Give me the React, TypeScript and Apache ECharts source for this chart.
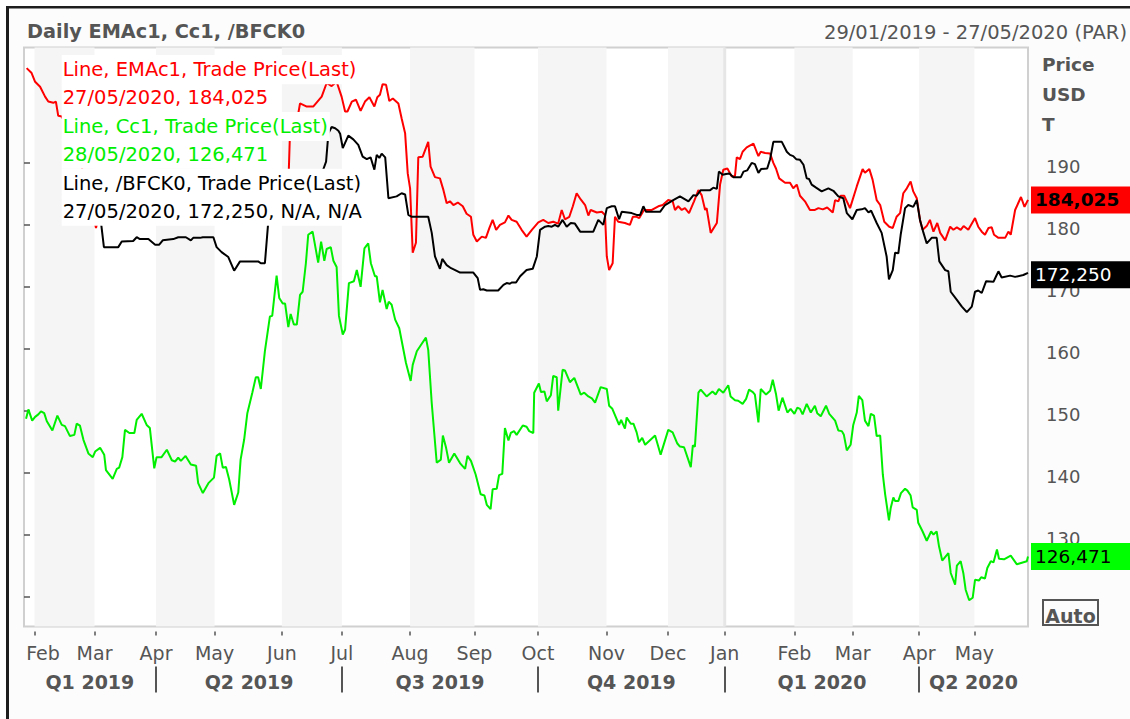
import React, { useEffect, useRef } from 'react';
import * as echarts from 'echarts';

const FONT = "'DejaVu Sans', Verdana, sans-serif";

// x axis unit: trading day index counted from 29/01/2019
const monthStarts = [3.6, 24.1, 45.1, 65.1, 88.1, 108.6, 131.9, 153.9, 175.6, 199.0, 220.0, 239.4, 263.2, 283.1, 305.8, 324.7];
const monthNames = ['Feb', 'Mar', 'Apr', 'May', 'Jun', 'Jul', 'Aug', 'Sep', 'Oct', 'Nov', 'Dec', 'Jan', 'Feb', 'Mar', 'Apr', 'May'];
const quarterBounds = [45.1, 108.6, 175.6, 239.4, 305.8];
const quarterMids = [22.5, 76.9, 142.1, 207.5, 272.6, 324.4];
const quarterNames = ['Q1 2019', 'Q2 2019', 'Q3 2019', 'Q4 2019', 'Q1 2020', 'Q2 2020'];
const shadedMonths: [number, number][] = [[3.6, 24.1], [45.1, 65.1], [88.1, 108.6], [131.9, 153.9], [175.6, 199.0], [220.0, 239.4], [263.2, 283.1], [305.8, 324.7]];
const yearBreak: [number, number] = [238.9, 239.9];
const priceTicks = [120, 130, 140, 150, 160, 170, 180, 190];
const priceLabels = [130, 140, 150, 160, 170, 180, 190];
const xMax = 343;
const yMin = 115.16;
const yMax = 208.63;

const seriesNames = ['EMAc1', 'Cc1', '/BFCK0'];
const seriesColors = ['#ff0000', '#00ee00', '#000000'];
const lastDates = ['27/05/2020', '28/05/2020', '27/05/2020'];
const legendSuffix = ['', '', ', N/A, N/A'];

const emaData: [number, number][] = [
  [0.9, 205.3], [2.6, 204.5], [3.8, 203.1], [5.5, 202.3], [7.2, 200.7], [8.3, 199.9], [10.0, 199.7], [10.9, 199.9], [11.7, 197.6], [12.9, 197.5],
  [15.7, 194.5], [19.1, 190.5], [22.5, 184.0], [24.6, 179.5], [26.0, 182.4], [29.4, 184.8], [36.2, 185.6], [43.0, 184.8], [49.9, 185.6], [56.7, 184.8],
  [63.5, 184.0], [70.4, 183.2], [77.2, 180.5], [80.0, 180.6], [82.3, 183.2], [87.5, 184.0], [90.2, 184.8], [90.9, 195.3], [93.6, 197.7], [94.3, 199.6],
  [96.6, 199.1], [98.8, 199.1], [101.7, 200.7], [103.4, 202.9], [105.1, 202.4], [106.8, 203.1], [108.5, 200.7], [109.7, 198.3], [110.5, 198.3], [112.0, 199.9],
  [113.4, 200.2], [115.0, 198.4], [116.5, 199.9], [118.0, 200.6], [119.7, 199.1], [120.7, 200.6], [121.6, 201.0], [122.5, 202.7], [123.7, 202.6], [124.8, 200.0],
  [126.0, 200.4], [127.9, 199.6], [129.0, 197.2], [130.2, 194.8], [131.1, 188.3], [131.9, 185.9], [132.8, 175.5], [133.9, 177.1], [134.7, 190.9], [136.2, 191.0],
  [138.1, 193.4], [138.9, 189.4], [140.4, 187.7], [142.1, 187.5], [143.3, 185.6], [144.4, 183.5], [145.5, 183.8], [146.7, 183.2], [148.2, 183.6], [149.9, 183.0],
  [151.2, 181.8], [152.7, 181.3], [153.5, 178.4], [154.7, 177.3], [156.4, 178.1], [157.8, 177.9], [159.0, 179.5], [160.1, 180.8], [161.3, 179.2], [162.6, 180.0],
  [164.3, 180.4], [165.5, 181.5], [166.6, 180.8], [168.3, 180.5], [170.0, 179.2], [171.7, 178.1], [173.5, 179.2], [175.7, 180.4], [177.4, 180.8], [179.1, 180.3],
  [180.8, 180.5], [182.5, 180.2], [183.7, 182.4], [184.8, 180.9], [186.3, 181.3], [187.5, 183.0], [188.8, 185.1], [190.2, 184.1], [191.7, 183.2], [192.8, 181.5],
  [193.6, 182.4], [195.7, 182.0], [197.4, 182.1], [198.5, 181.6], [199.1, 174.9], [199.9, 172.7], [201.1, 173.8], [201.9, 181.3], [203.0, 180.5], [205.3, 180.3],
  [207.0, 180.0], [208.0, 181.3], [209.3, 181.3], [210.2, 181.1], [211.8, 182.4], [214.5, 182.4], [216.7, 183.0], [218.2, 183.2], [220.1, 184.0], [221.6, 183.8],
  [222.4, 182.4], [223.5, 183.0], [224.7, 182.4], [225.8, 182.7], [227.2, 181.9], [228.9, 183.8], [230.4, 185.6], [231.5, 184.8], [232.7, 182.4], [233.2, 182.7],
  [234.6, 178.7], [236.7, 180.3], [237.8, 186.5], [238.9, 188.9], [240.3, 189.1], [241.8, 187.8], [242.9, 187.9], [243.5, 190.9], [244.6, 190.6], [245.5, 191.8],
  [246.9, 192.5], [249.2, 193.1], [250.3, 191.8], [250.9, 191.1], [251.7, 191.8], [253.2, 191.6], [254.9, 191.5], [256.0, 190.0], [256.9, 189.1], [258.0, 187.5],
  [260.0, 186.8], [261.7, 186.8], [262.8, 185.9], [264.0, 186.5], [265.1, 184.7], [266.8, 183.8], [268.5, 182.4], [270.2, 182.4], [271.4, 182.7], [272.9, 182.5],
  [274.4, 182.8], [276.3, 182.0], [277.1, 184.0], [278.2, 183.8], [279.0, 184.7], [280.2, 184.7], [282.2, 182.7], [284.5, 186.2], [286.5, 189.0], [287.3, 188.4],
  [288.8, 189.0], [289.9, 187.3], [291.3, 184.0], [292.5, 183.2], [293.9, 180.5], [295.6, 179.7], [296.8, 179.5], [298.1, 181.3], [299.3, 181.9], [300.4, 185.1],
  [301.6, 185.9], [302.9, 187.0], [303.8, 185.4], [305.0, 184.3], [306.1, 180.8], [307.0, 179.2], [308.4, 179.8], [309.5, 180.8], [310.7, 178.9], [312.0, 180.3],
  [313.0, 178.7], [314.7, 177.5], [316.4, 179.7], [317.5, 179.2], [318.7, 179.6], [320.0, 179.2], [321.0, 179.8], [322.6, 179.2], [324.9, 181.1], [326.0, 179.7],
  [327.2, 178.9], [328.3, 178.4], [329.5, 179.5], [330.6, 179.6], [331.4, 178.4], [332.9, 177.9], [335.2, 177.9], [336.3, 178.9], [337.1, 178.4], [338.6, 182.4],
  [340.6, 184.5], [341.8, 182.9], [343.0, 184.025],
];

const ccData: [number, number][] = [
  [0.7, 148.7], [1.5, 150.2], [2.8, 148.4], [3.8, 149.0], [4.9, 149.4], [5.8, 149.9], [6.9, 149.6], [7.8, 148.3], [9.7, 146.8], [11.4, 149.2],
  [12.9, 147.7], [14.0, 147.5], [15.7, 145.9], [17.2, 146.1], [18.0, 147.9], [19.1, 147.6], [20.3, 145.3], [22.0, 143.1], [23.5, 142.5], [24.3, 143.4],
  [26.0, 144.0], [27.4, 142.9], [28.0, 140.4], [30.3, 139.0], [31.7, 140.6], [32.5, 140.8], [33.6, 142.5], [34.5, 146.9], [36.0, 146.4], [37.7, 146.4],
  [38.5, 148.5], [40.2, 149.5], [41.9, 147.7], [43.0, 147.2], [44.5, 140.7], [45.3, 142.5], [47.0, 142.5], [48.8, 143.7], [50.5, 142.0], [51.6, 141.8],
  [52.7, 142.4], [53.6, 141.9], [55.2, 142.7], [57.0, 141.3], [58.8, 141.1], [59.5, 138.3], [61.1, 136.7], [63.0, 138.3], [64.9, 139.2], [65.8, 142.7],
  [67.0, 143.1], [67.9, 140.8], [69.0, 140.9], [70.1, 138.9], [71.8, 134.8], [73.2, 136.8], [74.0, 142.1], [75.2, 145.3], [76.3, 149.6], [78.0, 152.9],
  [79.2, 155.4], [80.0, 155.4], [80.9, 153.5], [82.3, 159.6], [84.0, 165.2], [84.8, 165.3], [86.3, 171.8], [87.2, 168.2], [88.4, 167.3], [89.2, 167.3],
  [90.3, 163.5], [91.1, 165.6], [92.2, 163.9], [93.2, 163.9], [94.3, 168.7], [95.2, 169.2], [96.3, 173.8], [97.1, 178.4], [98.6, 178.9], [100.5, 173.9],
  [101.5, 177.3], [102.6, 174.2], [103.4, 176.1], [104.8, 176.4], [105.7, 174.2], [106.8, 173.2], [107.6, 165.3], [108.9, 162.3], [109.7, 163.1], [111.0, 170.6],
  [112.7, 170.9], [113.7, 172.7], [115.0, 170.0], [116.3, 176.2], [117.6, 177.0], [118.5, 173.8], [119.9, 171.7], [120.5, 171.7], [121.6, 167.5], [122.5, 169.5],
  [123.9, 166.4], [124.6, 167.6], [125.6, 167.1], [126.8, 164.7], [128.2, 163.3], [130.5, 157.7], [132.1, 154.8], [132.8, 157.4], [134.2, 159.6], [135.6, 160.6],
  [137.3, 161.8], [138.1, 159.8], [139.3, 151.2], [141.0, 141.6], [142.4, 142.1], [143.1, 146.0], [144.2, 144.0], [145.2, 141.6], [147.0, 143.1], [149.0, 141.5],
  [150.7, 140.6], [151.5, 142.7], [152.7, 141.9], [154.3, 139.7], [156.0, 136.5], [157.3, 136.3], [158.1, 134.8], [159.4, 134.1], [160.1, 137.3], [161.5, 137.4],
  [162.3, 139.6], [163.4, 139.8], [164.3, 147.2], [165.5, 145.2], [166.3, 146.4], [167.4, 146.7], [168.3, 146.1], [170.4, 147.6], [171.7, 147.4], [172.6, 146.7],
  [174.0, 146.4], [174.3, 152.9], [175.9, 154.4], [176.6, 153.0], [177.8, 153.1], [178.6, 151.5], [180.0, 152.5], [180.8, 155.6], [182.0, 155.4], [182.5, 150.0],
  [184.0, 156.6], [184.8, 156.5], [186.5, 154.6], [188.0, 155.3], [190.2, 152.6], [191.4, 152.9], [192.8, 152.3], [194.0, 152.0], [195.1, 151.3], [197.0, 153.8],
  [199.1, 153.5], [199.9, 150.8], [201.0, 150.3], [203.3, 147.7], [204.0, 148.5], [205.3, 147.1], [205.9, 148.9], [207.3, 147.9], [208.2, 147.9], [209.3, 146.5],
  [210.1, 144.9], [211.2, 145.6], [212.2, 144.5], [215.6, 146.0], [217.5, 142.9], [220.1, 146.9], [221.6, 146.5], [223.2, 144.7], [224.1, 144.2], [225.5, 144.1],
  [227.8, 140.9], [228.5, 144.4], [229.2, 144.2], [230.4, 152.9], [231.2, 153.4], [233.2, 152.3], [235.2, 153.1], [236.3, 152.6], [237.4, 153.5], [238.9, 152.9],
  [240.6, 154.1], [241.4, 152.3], [242.9, 151.7], [244.0, 151.6], [245.5, 151.1], [246.7, 151.9], [247.7, 153.4], [249.0, 153.0], [249.7, 152.6], [250.9, 148.1],
  [251.7, 153.5], [253.5, 152.6], [254.9, 153.2], [255.8, 155.0], [256.9, 152.7], [257.8, 150.0], [259.1, 152.1], [260.8, 149.7], [261.9, 150.3], [263.2, 149.5],
  [264.2, 150.5], [265.1, 150.3], [266.0, 149.4], [267.4, 151.1], [268.8, 149.7], [270.2, 150.8], [271.0, 149.6], [272.2, 149.1], [274.0, 150.8], [275.1, 149.5],
  [277.1, 148.4], [278.2, 146.8], [279.4, 146.7], [280.1, 146.1], [281.1, 143.6], [282.4, 144.5], [283.3, 147.7], [284.5, 149.7], [285.2, 152.4], [286.4, 151.7],
  [287.3, 148.4], [288.5, 147.5], [289.3, 149.5], [290.4, 149.2], [291.3, 145.9], [292.5, 146.0], [293.4, 139.7], [294.2, 136.5], [295.5, 132.3], [296.1, 134.3],
  [297.0, 136.0], [297.6, 135.4], [298.7, 135.4], [299.6, 136.7], [301.0, 137.4], [301.8, 137.1], [302.9, 136.3], [303.6, 134.4], [305.0, 134.0], [305.5, 131.9],
  [307.0, 130.5], [308.4, 129.0], [309.9, 130.5], [310.7, 130.0], [311.8, 130.5], [312.6, 128.1], [313.7, 125.8], [315.8, 127.0], [316.6, 123.8], [318.1, 121.9],
  [318.7, 125.0], [320.0, 125.7], [320.9, 123.8], [321.7, 121.1], [322.9, 119.4], [324.1, 119.8], [324.9, 122.7], [326.3, 122.6], [327.0, 123.1], [328.3, 122.9],
  [329.1, 124.6], [330.3, 125.7], [331.2, 125.5], [332.4, 127.6], [333.1, 126.1], [334.8, 126.0], [337.1, 126.6], [339.2, 125.2], [342.6, 125.7], [343.0, 126.471],
];

const bfckData: [number, number][] = [
  [14.0, 185.6], [19.1, 184.8], [24.3, 184.0], [26.0, 181.6], [27.3, 176.4], [32.2, 176.4], [33.4, 177.3], [37.3, 177.4], [38.5, 178.0], [39.6, 177.7],
  [42.5, 177.7], [44.8, 176.8], [46.2, 176.8], [47.4, 177.5], [51.0, 177.7], [52.7, 178.0], [55.3, 178.0], [57.0, 177.5], [57.8, 177.9], [60.1, 177.9],
  [61.1, 178.0], [64.7, 178.0], [65.8, 176.4], [67.5, 175.6], [69.8, 174.8], [71.8, 172.6], [73.8, 174.1], [80.0, 174.1], [80.9, 173.8], [82.3, 173.8],
  [83.5, 180.8], [84.7, 184.8], [89.2, 185.6], [94.3, 186.5], [99.4, 187.3], [102.2, 188.9], [103.2, 190.2], [104.0, 194.8], [105.1, 195.8], [106.3, 195.6],
  [107.4, 195.2], [108.0, 194.7], [108.9, 192.4], [110.8, 194.4], [112.5, 193.8], [114.2, 192.9], [115.7, 191.0], [117.1, 190.6], [118.4, 190.9], [119.7, 188.9],
  [120.5, 191.3], [121.4, 190.8], [122.2, 191.5], [123.4, 190.9], [124.5, 184.3], [127.3, 184.6], [129.0, 185.1], [130.2, 184.9], [131.3, 181.6], [132.5, 181.3],
  [138.1, 181.3], [139.3, 178.7], [140.4, 174.9], [142.1, 172.9], [142.9, 174.5], [144.4, 173.5], [145.9, 173.0], [147.3, 172.7], [149.0, 172.3], [153.5, 172.3],
  [155.0, 171.4], [155.8, 169.5], [156.9, 169.6], [158.1, 169.4], [162.0, 169.4], [163.8, 170.3], [164.9, 170.6], [166.0, 170.5], [166.6, 170.7], [168.1, 170.7],
  [169.5, 171.7], [171.7, 172.7], [173.8, 172.9], [175.2, 174.9], [176.3, 179.2], [178.0, 179.7], [179.1, 179.8], [180.3, 179.7], [181.4, 180.0], [182.5, 179.7],
  [184.0, 180.8], [185.4, 179.7], [186.8, 180.3], [188.2, 180.2], [190.0, 178.9], [194.5, 178.9], [196.2, 180.8], [197.9, 180.0], [199.1, 182.7], [200.8, 183.0],
  [201.9, 183.0], [203.3, 180.9], [204.2, 182.1], [207.6, 181.9], [209.3, 181.6], [210.5, 181.6], [211.6, 183.0], [212.5, 182.1], [217.3, 182.1], [219.0, 183.2],
  [221.8, 184.0], [224.1, 184.6], [227.0, 183.8], [228.7, 184.8], [229.8, 184.7], [231.2, 185.6], [234.4, 185.6], [235.5, 186.0], [236.7, 185.8], [237.4, 188.6],
  [238.7, 188.1], [239.8, 188.2], [241.0, 188.3], [242.3, 187.7], [244.9, 187.7], [245.8, 188.6], [247.1, 188.8], [248.6, 190.0], [249.7, 189.8], [250.9, 188.4],
  [251.8, 189.0], [253.9, 189.1], [254.9, 190.6], [256.0, 193.4], [258.9, 193.4], [260.6, 191.8], [261.7, 191.3], [262.8, 191.1], [263.8, 190.6], [265.1, 190.5],
  [266.3, 189.7], [267.4, 187.5], [268.2, 187.4], [269.1, 186.5], [270.6, 186.0], [272.5, 185.4], [274.8, 185.9], [276.5, 185.5], [278.2, 184.6], [279.9, 184.3],
  [281.1, 181.9], [283.0, 180.9], [284.5, 182.4], [286.2, 182.5], [287.3, 182.7], [288.5, 182.0], [289.4, 182.3], [291.3, 180.3], [293.0, 178.7], [294.7, 174.9],
  [295.5, 171.2], [296.8, 172.7], [297.6, 175.5], [298.7, 175.4], [299.5, 178.4], [301.0, 182.7], [302.1, 183.2], [303.8, 182.9], [305.0, 184.0], [306.1, 180.8],
  [307.3, 178.7], [308.4, 177.0], [310.1, 177.9], [311.8, 177.9], [312.7, 174.1], [314.7, 172.7], [315.8, 172.5], [316.6, 169.2], [318.7, 167.9], [320.4, 166.8],
  [322.1, 165.9], [323.8, 166.8], [324.9, 169.2], [326.0, 169.4], [327.2, 169.0], [328.7, 170.9], [331.2, 170.8], [332.1, 171.7], [332.9, 172.5], [334.0, 171.5],
  [336.9, 171.8], [338.6, 171.6], [341.4, 171.9], [343.0, 172.25],
];

const allData = [emaData, ccData, bfckData];

const fmtPrice = (v: number) => v.toFixed(3).replace('.', ',');
const richKeys = ['r', 'g', 'k'];

export default function App() {
  const ref = useRef<HTMLDivElement>(null);

  useEffect(() => {
    document.body.style.margin = '0';
    if (!ref.current) return;
    const chart = echarts.init(ref.current, undefined, { renderer: 'svg' });

    const legendRich: Record<string, any> = {};
    richKeys.forEach((k, i) => {
      legendRich[k] = {
        color: seriesColors[i],
        backgroundColor: '#ffffff',
        fontSize: 19.5,
        fontFamily: FONT,
        lineHeight: 27.7,
        padding: [4.6, 2, 4.6, 1],
      };
    });

    const endLabelStyles = [
      { backgroundColor: '#ff0000', color: '#000000', fontWeight: 'bold' as const, offset: [0, 0] },
      { backgroundColor: '#00ff00', color: '#000000', fontWeight: 'normal' as const, offset: [0, 0] },
      { backgroundColor: '#000000', color: '#ffffff', fontWeight: 'normal' as const, offset: [0, 2] },
    ];

    const series: any[] = seriesNames.map((name, i) => ({
      name,
      type: 'line',
      data: allData[i],
      showSymbol: false,
      symbol: 'none',
      z: 2,
      lineStyle: { color: seriesColors[i], width: 2 },
      itemStyle: { color: seriesColors[i] },
      endLabel: {
        show: true,
        distance: 3,
        formatter: (p: any) => fmtPrice(p.value[1]),
        fontSize: 18.5,
        fontFamily: FONT,
        padding: [4, 4, 4, 4],
        width: 94,
        ...endLabelStyles[i],
      },
    }));

    series[0].markArea = {
      silent: true,
      itemStyle: { color: '#f5f5f5' },
      data: [
        ...shadedMonths.map(([a, b]) => [{ xAxis: a }, { xAxis: b }]),
        [{ xAxis: yearBreak[0], itemStyle: { color: '#e6e6e6' } }, { xAxis: yearBreak[1] }],
      ],
    };

    const option: any = {
      animation: false,
      backgroundColor: '#fcfcfc',
      textStyle: { fontFamily: FONT },
      title: [
        {
          text: 'Daily EMAc1, Cc1, /BFCK0',
          left: 27,
          top: 22,
          padding: 0,
          textStyle: { fontSize: 19.3, fontWeight: 'bold', color: '#555555', fontFamily: FONT },
        },
        {
          text: '29/01/2019 - 27/05/2020 (PAR)',
          right: 3,
          top: 22,
          padding: 0,
          textStyle: { fontSize: 19.5, fontWeight: 'normal', color: '#555555', fontFamily: FONT },
        },
      ],
      legend: {
        orient: 'vertical',
        left: 56.7,
        top: 55,
        padding: 0,
        itemGap: 0,
        itemWidth: 0,
        itemHeight: 0,
        icon: 'none',
        selectedMode: false,
        z: 10,
        data: seriesNames.map((name, i) => ({ name, textStyle: { color: seriesColors[i] } })),
        formatter: (name: string) => {
          const i = seriesNames.indexOf(name);
          const d = allData[i];
          const k = richKeys[i];
          return `{${k}|Line, ${name}, Trade Price(Last)}\n{${k}|${lastDates[i]}, ${fmtPrice(d[d.length - 1][1])}${legendSuffix[i]}}`;
        },
        textStyle: { fontSize: 19.5, fontFamily: FONT, rich: legendRich },
      },
      grid: {
        left: 24,
        right: 102,
        top: 47.5,
        bottom: 92.5,
        show: true,
        backgroundColor: '#ffffff',
        borderColor: '#d0d0d0',
        borderWidth: 2,
        containLabel: false,
        outerBoundsMode: 'none',
      },
      xAxis: [
        {
          type: 'value',
          min: 0,
          max: xMax,
          position: 'bottom',
          offset: 5,
          axisLine: { show: false },
          splitLine: { show: false },
          axisTick: { show: true, customValues: monthStarts, length: 4, lineStyle: { color: '#555555', width: 1.5 } },
          axisLabel: {
            customValues: monthStarts,
            margin: 12,
            fontSize: 19,
            color: '#555555',
            fontFamily: FONT,
            formatter: (v: number, idx: number) => {
              let i = monthStarts.indexOf(v);
              if (i < 0) i = idx;
              return i === 0 ? `{first|${monthNames[i]}}` : monthNames[i] ?? '';
            },
            rich: { first: { padding: [0, 0, 0, 17], fontSize: 19, color: '#555555', fontFamily: FONT } },
          },
        },
        {
          type: 'value',
          min: 0,
          max: xMax,
          position: 'bottom',
          offset: 40,
          axisLine: { show: false },
          splitLine: { show: false },
          axisTick: { show: true, customValues: quarterBounds, length: 26, lineStyle: { color: '#555555', width: 2 } },
          axisLabel: {
            customValues: quarterMids,
            margin: 6,
            fontSize: 19,
            fontWeight: 'bold',
            color: '#555555',
            fontFamily: FONT,
            formatter: (v: number, idx: number) => {
              let i = quarterMids.indexOf(v);
              if (i < 0) i = idx;
              return quarterNames[i] ?? '';
            },
          },
        },
      ],
      yAxis: {
        type: 'value',
        position: 'right',
        offset: 4,
        min: yMin,
        max: yMax,
        axisLine: { show: false },
        splitLine: { show: false },
        axisTick: { show: true, customValues: priceTicks, length: 6, lineStyle: { color: '#555555', width: 1.5 } },
        axisLabel: {
          customValues: priceLabels,
          margin: 14,
          fontSize: 18,
          color: '#555555',
          fontFamily: FONT,
          formatter: (v: number) => `{p|${v}}`,
          rich: { p: { padding: [8, 0, 0, 0], fontSize: 18, color: '#555555', fontFamily: FONT } },
        },
      },
      series,
      graphic: [
        { type: 'rect', silent: true, shape: { x: 0, y: 0, width: 1130, height: 6 }, style: { fill: '#ffffff' } },
        { type: 'rect', silent: true, shape: { x: 0, y: 0, width: 6, height: 719 }, style: { fill: '#ffffff' } },
        { type: 'rect', silent: true, shape: { x: 6, y: 6, width: 1124, height: 2.5 }, style: { fill: '#1e1e1e' } },
        { type: 'rect', silent: true, shape: { x: 6, y: 6, width: 3, height: 713 }, style: { fill: '#1e1e1e' } },
        {
          type: 'text',
          silent: true,
          x: 1042,
          y: 49,
          style: {
            text: 'Price\nUSD\nT',
            font: `bold 18.5px ${FONT}`,
            fill: '#555555',
            lineHeight: 30,
            verticalAlign: 'top',
            align: 'left',
          },
        },
        {
          type: 'rect',
          silent: true,
          shape: { x: 1043, y: 600, width: 55, height: 25 },
          style: { fill: 'none', stroke: '#555555', lineWidth: 2 },
        },
        {
          type: 'text',
          silent: true,
          x: 1070.5,
          y: 616,
          style: {
            text: 'Auto',
            font: `bold 19px ${FONT}`,
            fill: '#555555',
            align: 'center',
            verticalAlign: 'middle',
          },
        },
      ],
    };

    chart.setOption(option);
    return () => {
      chart.dispose();
    };
  }, []);

  return <div ref={ref} style={{ width: 1130, height: 719 }} />;
}
